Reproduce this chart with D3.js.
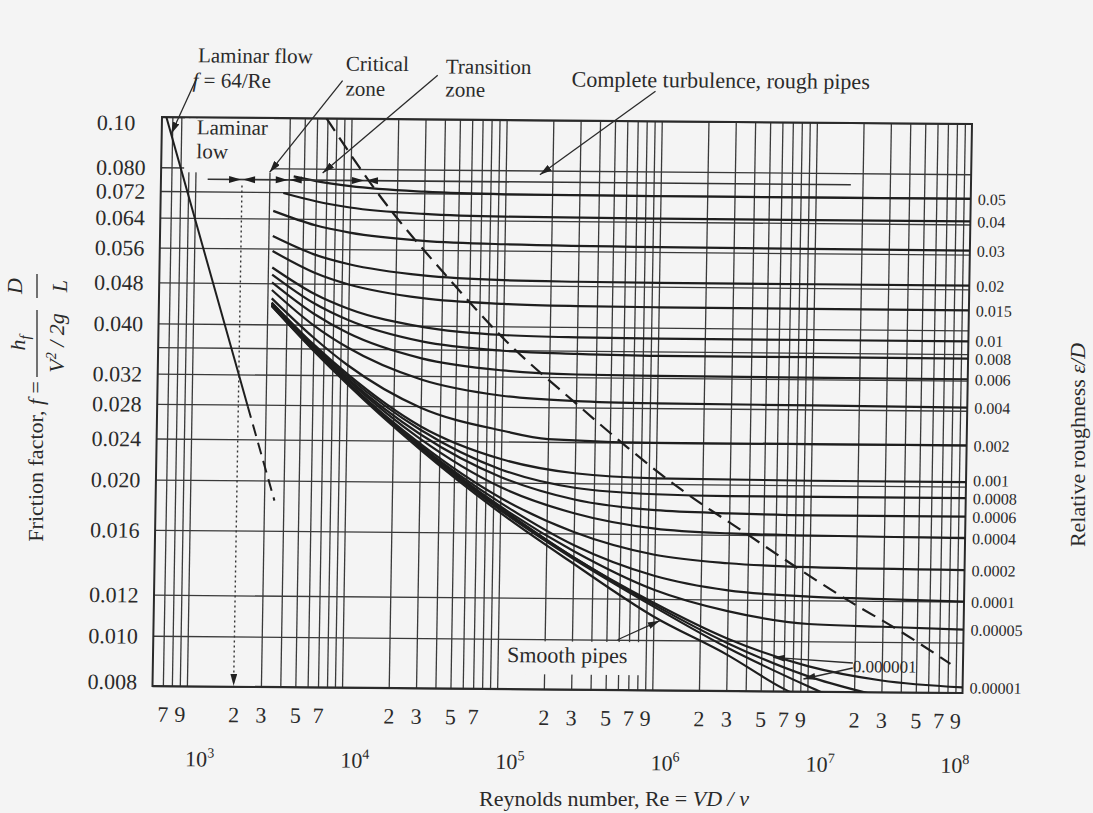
<!DOCTYPE html>
<html>
<head>
<meta charset="utf-8">
<script src="https://cdn.jsdelivr.net/npm/d3@7"></script>
<style>
  body { margin: 0; background: #f4f4f4; }
  text { font-family: "Liberation Serif", "Times New Roman", serif; fill: #2a2a2a; }
</style>
</head>
<body>
<script>
// Moody diagram, values

// vertical grid lines (Re)
const reGrid = [700, 800, 900, 1e3,
  3e3, 4e3, 5e3, 6e3, 7e3, 8e3, 9e3, 1e4,
  2e4, 3e4, 4e4, 5e4, 6e4, 7e4, 8e4, 9e4, 1e5,
  2e5, 3e5, 4e5, 5e5, 6e5, 7e5, 8e5, 9e5, 1e6,
  2e6, 3e6, 4e6, 5e6, 6e6, 7e6, 8e6, 9e6, 1e7,
  2e7, 3e7, 4e7, 5e7, 6e7, 7e7, 8e7, 9e7]
// horizontal grid lines (f)
const fGrid = [0.1, 0.08, 0.072, 0.064, 0.056, 0.048, 0.040, 0.036, 0.032, 0.028, 0.024, 0.020, 0.016, 0.012, 0.010, 0.008]

// tick labels
const xTickValues = [700, 900, 2e3, 3e3, 5e3, 7e3, 2e4, 3e4, 5e4, 7e4, 2e5, 3e5, 5e5, 7e5, 9e5, 2e6, 3e6, 5e6, 7e6, 9e6, 2e7, 3e7, 5e7, 7e7, 9e7]
const xTickText = ['7', '9', '2', '3', '5', '7', '2', '3', '5', '7', '2', '3', '5', '7', '9', '2', '3', '5', '7', '9', '2', '3', '5', '7', '9']
const decades = [1e3, 1e4, 1e5, 1e6, 1e7, 1e8]
const decadeExp = ['3', '4', '5', '6', '7', '8']
const fTicks = [0.1, 0.08, 0.072, 0.064, 0.056, 0.048, 0.040, 0.032, 0.028, 0.024, 0.020, 0.016, 0.012, 0.010, 0.008]
const fTickText = ['0.10', '0.080', '0.072', '0.064', '0.056', '0.048', '0.040', '0.032', '0.028', '0.024', '0.020', '0.016', '0.012', '0.010', '0.008']

// friction factor curves, [Re, f]
const r05 = [[4300, .0772], [6000, .0757], [1e4, .0741], [3e4, .0725], [1e5, .0719], [1e6, .0717], [1e8, .0717]]
const r04 = [[3700, .0717], [6000, .0692], [1e4, .0674], [3e4, .0657], [1e5, .0651], [1e6, .0649], [1e8, .0649]]
const r03 = [[3200, .0662], [6000, .0622], [1e4, .0603], [3e4, .0583], [1e5, .0576], [1e6, .0572], [1e8, .0570]]
const r02 = [[3200, .0592], [6000, .0546], [1e4, .0524], [3e4, .0500], [1e5, .0491], [3e5, .0489], [1e6, .0488], [1e8, .0488]]
const r015 = [[3200, .0554], [6000, .0504], [1e4, .0479], [3e4, .0452], [1e5, .0442], [3e5, .0439], [1e6, .0438], [1e8, .0437]]
const r01 = [[3200, .0515], [6000, .0459], [1e4, .0430], [3e4, .0398], [1e5, .0385], [3e5, .0382], [1e6, .0381], [1e8, .0381]]
const r008 = [[3200, .0499], [6000, .0440], [1e4, .0409], [3e4, .0373], [1e5, .0359], [3e5, .0355], [1e6, .0353], [1e8, .0353]]
const r006 = [[3200, .0482], [6000, .0420], [1e4, .0386], [3e4, .0346], [1e5, .0329], [3e5, .0324], [1e6, .0323], [1e8, .0322]]
const r004 = [[3200, .0466], [6000, .0399], [1e4, .0362], [3e4, .0315], [1e5, .0294], [3e5, .0288], [1e6, .0286], [1e7, .0285], [1e8, .0284]]
const r002 = [[3200, .0449], [6000, .0378], [1e4, .0335], [3e4, .0278], [1e5, .0252], [2e5, .0243], [1e6, .0240], [1e7, .0240], [1e8, .0240]]
const r001 = [[3200, .0441], [6000, .0367], [1e4, .0322], [3e4, .0256], [1e5, .0222], [3e5, .0209], [1e6, .0205], [1e7, .0204], [1e8, .0204]]
const r0008 = [[3200, .0440], [6000, .0365], [1e4, .0319], [3e4, .0252], [1e5, .0212], [3e5, .0196], [1e6, .0191], [3e6, .0190], [1e8, .0190]]
const r0006 = [[3200, .0438], [6000, .0363], [1e4, .0316], [3e4, .0247], [1e5, .0205], [3e5, .0186], [1e6, .0178], [3e6, .0176], [1e7, .0175], [1e8, .0175]]
const r0004 = [[3200, .0437], [6000, .0361], [1e4, .0314], [3e4, .0242], [1e5, .0196], [3e5, .0175], [1e6, .0164], [3e6, .0161], [1e7, .0160], [1e8, .0159]]
const r0002 = [[3200, .0435], [6000, .0359], [1e4, .0311], [3e4, .0237], [1e5, .0187], [3e5, .0161], [1e6, .0146], [3e6, .0141], [1e7, .0139], [1e8, .0138]]
const r0001 = [[3200, .0435], [6000, .0358], [1e4, .0310], [3e4, .0235], [1e5, .0183], [3e5, .0152], [1e6, .0133], [3e6, .0125], [1e7, .0122], [3e7, .0121], [1e8, .0120]]
const r00005 = [[1e4, .0309], [3e4, .0234], [1e5, .0180], [3e5, .0148], [1e6, .0125], [3e6, .0114], [1e7, .0108], [3e7, .0107], [1e8, .0106]]
const r00001 = [[1e4, .0309], [3e4, .0233], [1e5, .0179], [3e5, .0144], [1e6, .0118], [3e6, .0101], [1e7, .00896], [3e7, .00843], [1e8, .0082]]
const r000005 = [[3e4, .0232], [1e5, .0178], [3e5, .0144], [1e6, .0117], [3e6, .0099], [1e7, .00857], [3e7, .00785]]
const r000001 = [[3e4, .0232], [1e5, .0177], [3e5, .0143], [1e6, .0116], [3e6, .0097], [1e7, .0082], [2e7, .0075]]
const smooth = [[3200, .0434], [6000, .0357], [1e4, .0308], [3e4, .0231], [1e5, .0175], [3e5, .0140], [1e6, .0111], [3e6, .0094], [7e6, .0081], [1e7, .0077]]

const labelled = [r05, r04, r03, r02, r015, r01, r008, r006, r004, r002, r001, r0008, r0006, r0004, r0002, r0001, r00005, r00001]
const roughness = ['0.05', '0.04', '0.03', '0.02', '0.015', '0.01', '0.008', '0.006', '0.004', '0.002', '0.001', '0.0008', '0.0006', '0.0004', '0.0002', '0.0001', '0.00005', '0.00001']

// laminar line f = 64/Re
const laminar = [[630, .1016], [2300, .0278]]
const laminarExt = [[2300, .0278], [3500, .0183]]
// dashed boundary of complete turbulence
const roughBoundary = [[6900, .100], [1.5e4, .072], [4.5e4, .049], [1.0e5, .038], [3.0e5, .0285], [6.5e5, .0235], [1.4e6, .0197], [4e6, .0160], [8.5e6, .0138], [1.8e7, .0120], [3.9e7, .0105], [8.3e7, .0091]]
// zone indicator line and its markers
const zoneLine = [[1200, .076], [1.68e7, .076]]
const zoneMarks = [2000, 4000, 12400]

const W = 810, H = 569

const svg = d3.select('body').append('svg')
  .attr('width', 1093)
  .attr('height', 813)

svg.append('rect').attr('width', 1093).attr('height', 813).attr('fill', '#f4f4f4')

const defs = svg.append('defs')
defs.append('marker')
  .attr('id', 'arr')
  .attr('viewBox', '0 0 12 7')
  .attr('refX', 12).attr('refY', 3.5)
  .attr('markerWidth', 12).attr('markerHeight', 7)
  .attr('markerUnits', 'userSpaceOnUse')
  .attr('orient', 'auto')
  .append('path').attr('d', 'M0,0L12,3.5L0,7Z').attr('fill', '#222')
defs.append('clipPath').attr('id', 'plot')
  .append('rect').attr('width', W).attr('height', H)

// the scan is slightly skewed, so the whole chart is too
const g = svg.append('g')
  .attr('transform', 'matrix(1,0.0086,-0.0167,1,162,117)')

const x = d3.scaleLog().domain([600, 1e8]).range([0, W])
const y = d3.scaleLog().domain([0.008, 0.1]).range([H, 0])

// grid
g.append('g')
  .attr('transform', `translate(0,${H})`)
  .call(d3.axisBottom(x).tickValues(reGrid).tickSize(-H).tickFormat(''))
  .call(s => s.select('.domain').remove())
  .selectAll('line').attr('stroke', '#3a3a3a').attr('stroke-width', 1.3)

g.append('g')
  .call(d3.axisLeft(y).tickValues(fGrid).tickSize(-W).tickFormat(''))
  .call(s => s.select('.domain').remove())
  .selectAll('line').attr('stroke', '#3a3a3a').attr('stroke-width', 1.3)

// white boxes behind the labels inside the grid
g.append('rect').attr('x', 23).attr('y', 1).attr('width', 89).attr('height', 54).attr('fill', '#f4f4f4')
g.append('rect').attr('x', 347).attr('y', 521).attr('width', 141).attr('height', 33).attr('fill', '#f4f4f4')

// frame
g.append('rect').attr('width', W).attr('height', H)
  .attr('fill', 'none').attr('stroke', '#2a2a2a').attr('stroke-width', 2)

const line = d3.line()
  .x(d => x(d[0]))
  .y(d => y(d[1]))
  .curve(d3.curveMonotoneX)

const plot = g.append('g').attr('clip-path', 'url(#plot)')

plot.selectAll('path.curve')
  .data(labelled.concat([r000005, r000001, smooth]))
  .join('path')
  .attr('class', 'curve')
  .attr('d', line)
  .attr('fill', 'none')
  .attr('stroke', '#1e1e1e')
  .attr('stroke-width', 2.2)

plot.append('path').attr('d', line(laminar))
  .attr('fill', 'none').attr('stroke', '#1e1e1e').attr('stroke-width', 2)
plot.append('path').attr('d', line(laminarExt))
  .attr('fill', 'none').attr('stroke', '#1e1e1e').attr('stroke-width', 2)
  .attr('stroke-dasharray', '12,7')

plot.append('path').attr('d', line(roughBoundary))
  .attr('fill', 'none').attr('stroke', '#1e1e1e').attr('stroke-width', 2.2)
  .attr('stroke-dasharray', '15,8')

// zone line with double arrow marks
plot.append('path').attr('d', line(zoneLine))
  .attr('fill', 'none').attr('stroke', '#333').attr('stroke-width', 1.6)
const yz = y(0.076)
zoneMarks.forEach(re => {
  const xm = x(re)
  g.append('path')
    .attr('d', `M${xm - 1},${yz}L${xm - 13},${yz - 3.5}L${xm - 13},${yz + 3.5}Z M${xm + 1},${yz}L${xm + 13},${yz - 3.5}L${xm + 13},${yz + 3.5}Z`)
    .attr('fill', '#1e1e1e')
})

// dotted Re = 2000 line
g.append('line')
  .attr('x1', x(2000)).attr('x2', x(2000))
  .attr('y1', y(0.074)).attr('y2', H - 1)
  .attr('stroke', '#333').attr('stroke-width', 1.4)
  .attr('stroke-dasharray', '2,3')
  .attr('marker-end', 'url(#arr)')

// axis tick labels
g.append('g')
  .attr('transform', `translate(0,${H})`)
  .call(d3.axisBottom(x).tickValues(xTickValues).tickSize(0).tickPadding(20).tickFormat((d, i) => xTickText[i]))
  .call(s => s.select('.domain').remove())
  .selectAll('text')
  .attr('font-size', 22)
  .attr('font-family', '"Liberation Serif", serif')
  .attr('fill', '#2a2a2a')

const dec = g.selectAll('text.dec')
  .data(decades)
  .join('text')
  .attr('class', 'dec')
  .attr('x', d => d === 1e8 ? x(d) + 8 : x(d) + 14)
  .attr('y', H + 80)
  .attr('text-anchor', d => d === 1e8 ? 'end' : 'middle')
  .attr('font-size', 22)
dec.append('tspan').text('10')
dec.append('tspan').attr('dy', -9).attr('font-size', 14).text((d, i) => decadeExp[i])

g.append('g')
  .call(d3.axisLeft(y).tickValues(fTicks).tickSize(0).tickFormat((d, i) => fTickText[i]))
  .call(s => s.select('.domain').remove())
  .selectAll('text')
  .attr('x', -65)
  .attr('dy', null)
  .attr('y', d => d === 0.1 ? 13 : (d === 0.008 ? 3 : 7.5))
  .attr('text-anchor', 'start')
  .attr('font-size', 22)
  .attr('font-family', '"Liberation Serif", serif')
  .attr('fill', '#2a2a2a')

// relative roughness labels at the right end of each curve,
// pushed apart from the bottom up where they would collide
const epsY = labelled.map(d => y(d[d.length - 1][1]) + 6)
for (let i = epsY.length - 2; i >= 0; i--) {
  if (epsY[i + 1] - epsY[i] < 18) epsY[i] = epsY[i + 1] - 18
}
g.selectAll('text.eps')
  .data(labelled)
  .join('text')
  .attr('class', 'eps')
  .attr('x', W + 7)
  .attr('y', (d, i) => epsY[i])
  .attr('font-size', 16)
  .text((d, i) => roughness[i])

// annotations
function note(txt, px, py, size) {
  return g.append('text').attr('x', px).attr('y', py).attr('font-size', size || 22).text(txt)
}
function leader(x1, y1, x2, y2) {
  g.append('line')
    .attr('x1', x1).attr('y1', y1).attr('x2', x2).attr('y2', y2)
    .attr('stroke', '#2a2a2a').attr('stroke-width', 1.3)
    .attr('marker-end', 'url(#arr)')
}

note('Laminar flow', 35, -55, 21)
const lam = g.append('text').attr('x', 30).attr('y', -30).attr('font-size', 21)
lam.append('tspan').attr('font-style', 'italic').text('f')
lam.append('tspan').text(' = 64/Re')
note('Critical', 183, -48, 21)
note('zone', 183, -23, 21)
note('Transition', 283, -46, 21)
note('zone', 283, -23, 21)
note('Complete turbulence, rough pipes', 409, -34)
note('Laminar', 35, 17, 21)
note('low', 35, 41, 21)
note('Smooth pipes', 354, 542)
note('0.000001', x(1.95e7), y(0.00874), 17)

leader(34, -39, x(690), y(0.0928))
leader(180, -38, x(3000), y(0.0785))
leader(275, -44, x(6600), y(0.0785))
leader(493, -30, x(1.66e5), y(0.0785))
leader(x(5.9e5), y(0.0100), x(1.1e6), y(0.0109))
leader(x(1.95e7), y(0.0089), x(9.4e6), y(0.00846))
leader(x(1.95e7), y(0.0091), x(5.96e6), y(0.0093))

// axis titles
const yt = svg.append('g').attr('transform', 'translate(40,0) rotate(-90)')
const yt1 = yt.append('text').attr('x', -381).attr('y', 3).attr('text-anchor', 'end').attr('font-size', 22)
yt1.append('tspan').text('Friction factor, ')
yt1.append('tspan').attr('font-style', 'italic').text('f')
yt1.append('tspan').text(' =')
yt.append('line').attr('x1', -377).attr('x2', -310).attr('y1', -3).attr('y2', -3).attr('stroke', '#2a2a2a').attr('stroke-width', 1.3)
const num = yt.append('text').attr('x', -343).attr('y', -15).attr('text-anchor', 'middle').attr('font-size', 22).attr('font-style', 'italic')
num.append('tspan').text('h')
num.append('tspan').attr('dy', 5).attr('font-size', 15).text('f')
const den = yt.append('text').attr('x', -343).attr('y', 24).attr('text-anchor', 'middle').attr('font-size', 22).attr('font-style', 'italic')
den.append('tspan').text('V')
den.append('tspan').attr('dy', -8).attr('font-size', 14).text('2')
den.append('tspan').attr('dy', 8).text(' / 2g')
yt.append('line').attr('x1', -298).attr('x2', -274).attr('y1', -3).attr('y2', -3).attr('stroke', '#2a2a2a').attr('stroke-width', 1.3)
yt.append('text').attr('x', -286).attr('y', -18).attr('text-anchor', 'middle').attr('font-size', 22).attr('font-style', 'italic').text('D')
yt.append('text').attr('x', -286).attr('y', 27).attr('text-anchor', 'middle').attr('font-size', 22).attr('font-style', 'italic').text('L')

const rt = svg.append('text')
  .attr('transform', 'translate(1085,445) rotate(-90)')
  .attr('text-anchor', 'middle')
  .attr('font-size', 22)
rt.append('tspan').text('Relative roughness ')
rt.append('tspan').attr('font-style', 'italic').text('ε/D')

const xt = svg.append('text')
  .attr('x', 614).attr('y', 806)
  .attr('text-anchor', 'middle')
  .attr('font-size', 22)
xt.append('tspan').text('Reynolds number, Re = ')
xt.append('tspan').attr('font-style', 'italic').text('VD / ν')
</script>
</body>
</html>
